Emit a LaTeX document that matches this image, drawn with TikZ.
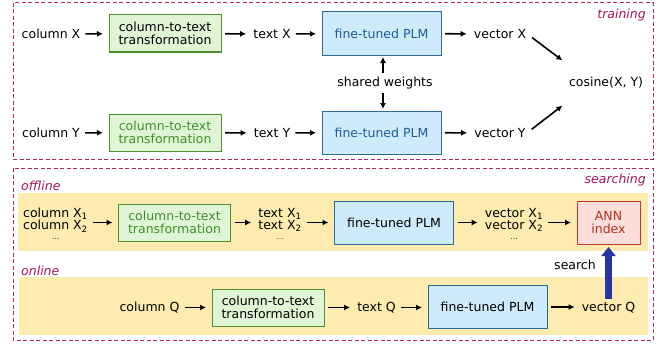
\documentclass[tikz,border=0pt]{standalone}
\usepackage{fontspec}
\setmainfont{DejaVu Sans}
\usetikzlibrary{arrows.meta}
\definecolor{frame}{HTML}{B02468}
\definecolor{lab}{HTML}{A3165C}
\definecolor{band}{HTML}{FDEBB0}
\definecolor{gfill}{HTML}{E0F5D6}
\definecolor{gdraw}{HTML}{4F8F2F}
\definecolor{gtext}{HTML}{3F8F2A}
\definecolor{bfill}{HTML}{CDEBFA}
\definecolor{bdraw}{HTML}{2E6A96}
\definecolor{btext}{HTML}{1F5C9A}
\definecolor{rfill}{HTML}{FDDEDA}
\definecolor{rdraw}{HTML}{C0392B}
\definecolor{rtext}{HTML}{B5301F}
\definecolor{sblue}{HTML}{2A35A5}
\tikzset{
  every node/.style={font=\fontsize{12.5}{15}\selectfont, inner sep=1pt},
  txt/.style={},
  gbox/.style={draw=gdraw, fill=gfill, line width=1pt, minimum width=112pt, minimum height=37pt, align=center, inner sep=0pt, outer sep=0pt},
  bbox/.style={draw=bdraw, fill=bfill, line width=1pt, minimum width=119pt, minimum height=43pt, align=center, inner sep=0pt, outer sep=0pt},
  rbox/.style={draw=rdraw, fill=rfill, line width=1pt, minimum width=63pt, minimum height=43pt, align=center, inner sep=0pt, outer sep=0pt, text=rtext},
  arr/.style={-{Latex[length=6pt,width=6pt]}, line width=1.6pt, shorten <=4pt, shorten >=6pt},
  frm/.style={draw=frame, line width=1pt, dash pattern=on 4pt off 2.5pt},
  sec/.style={text=lab, font=\fontsize{12.5}{15}\selectfont\itshape},
}
\begin{document}
\begin{tikzpicture}[x=1pt,y=-1pt]
\useasboundingbox (0,0) rectangle (660,345);
% frames
\draw[frm] (13,3) rectangle (653,159);
\draw[frm] (13,168) rectangle (653,340);
\node[sec, anchor=east] (ltrain) at (647,15) {training};
\node[sec, anchor=east] (lsearch) at (647,180) {searching};
% training row X
\node[txt] (cX) at (51,34) {column X};
\node[gbox] (t1) at (165,33.5) {column-to-text\\[-2pt]transformation};
\node[txt] (tX) at (272,34) {text X};
\node[bbox, text=btext] (p1) at (381.5,33.5) {fine-tuned PLM};
\node[txt] (vX) at (500,34) {vector X};
% training row Y
\node[txt] (cY) at (51,133) {column Y};
\node[gbox, text=gtext] (t2) at (165,132.5) {column-to-text\\[-2pt]transformation};
\node[txt] (tY) at (272,133) {text Y};
\node[bbox, text=btext] (p2) at (381.5,132.5) {fine-tuned PLM};
\node[txt] (vY) at (500,133) {vector Y};
\node[txt] (cos) at (606,83) {cosine(X, Y)};
\node[txt] (sw) at (385,83) {shared weights};
\foreach \a/\b in {cX/t1,t1/tX,tX/p1,p1/vX,cY/t2,t2/tY,tY/p2,p2/vY}
  \draw[arr] (\a) -- (\b);
\draw[arr, shorten <=6pt, shorten >=3pt] (vX.east) -- ([shift={(-3,-14)}]cos.north west);
\draw[arr, shorten <=6pt, shorten >=3pt] (vY.east) -- ([shift={(-3,14)}]cos.south west);
\coordinate (swu) at ([xshift=-2pt]sw.north);
\coordinate (swd) at ([xshift=-2pt]sw.south);
\draw[arr, shorten <=3pt, shorten >=2pt] (swu) -- (swu |- p1.south);
\draw[arr, shorten <=3pt, shorten >=2pt] (swd) -- (swd |- p2.north);
% searching
\fill[band] (18,193) rectangle (648,251);
\fill[band] (19,277) rectangle (648,335);
\node[sec, anchor=west] (loff) at (20,186) {offline};
\node[sec, anchor=west] (lon) at (20,271) {online};
% offline row
\node[txt, align=center] (oc) at (55.5,224) {column X\textsubscript{1}\\[-3pt]column X\textsubscript{2}\\[-5pt]{\scriptsize …}};
\node[gbox, text=gtext] (ot) at (174.5,222.5) {column-to-text\\[-2pt]transformation};
\node[txt, align=center] (otx) at (280,224) {text X\textsubscript{1}\\[-3pt]text X\textsubscript{2}\\[-5pt]{\scriptsize …}};
\node[bbox] (op) at (394,222.5) {fine-tuned PLM};
\node[txt, align=center] (ov) at (514,224) {vector X\textsubscript{1}\\[-3pt]vector X\textsubscript{2}\\[-5pt]{\scriptsize …}};
\node[rbox] (ann) at (608.5,222.5) {ANN\\[-2pt]index};
\draw[arr] (oc.east |- ot) -- (ot);
\draw[arr] (ot) -- (otx.west |- ot);
\draw[arr] (otx.east |- op) -- (op);
\draw[arr] (op) -- (ov.west |- op);
\draw[arr] (ov.east |- ann) -- (ann);
% online row
\node[txt] (qc) at (149.5,307.5) {column Q};
\node[gbox] (qt) at (268,307.5) {column-to-text\\[-2pt]transformation};
\node[txt] (qtx) at (376.5,307.5) {text Q};
\node[bbox] (qp) at (487.5,307) {fine-tuned PLM};
\node[txt] (qv) at (608.5,307.5) {vector Q};
\foreach \a/\b in {qc/qt,qt/qtx,qtx/qp,qp/qv}
  \draw[arr] (\a.east) -- (\a.east -| \b.west);
\draw[sblue, line width=6.5pt, -{Triangle[length=9pt,width=14pt]}, shorten <=2pt, shorten >=3pt] (qv.north) -- (qv.north |- ann.south);
\node[txt] (srch) at (575,265) {search};
\end{tikzpicture}
\end{document}
